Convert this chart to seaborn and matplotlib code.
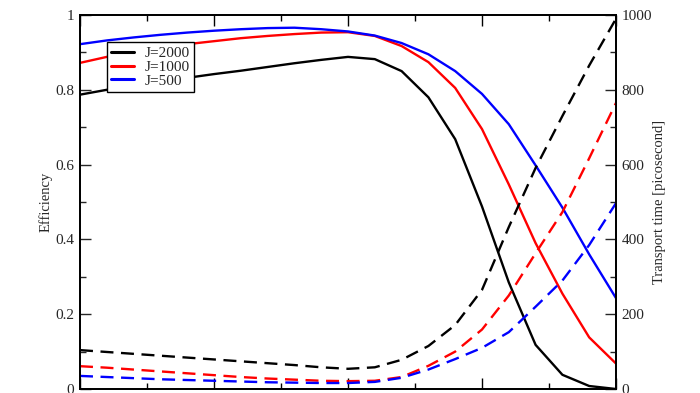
import numpy as np
import pandas as pd
import matplotlib
matplotlib.use("Agg")
import matplotlib.pyplot as plt
from matplotlib.ticker import MultipleLocator
import seaborn as sns

# sample index along the x axis (tick labels are cut off in the source figure)
x = list(range(21))

# efficiency (left axis)
eff_2000 = [0.787, 0.800, 0.811, 0.822, 0.832, 0.842, 0.851, 0.861, 0.871, 0.880, 0.888,
            0.882, 0.850, 0.780, 0.668, 0.488, 0.285, 0.118, 0.038, 0.008, 0.0]
eff_1000 = [0.872, 0.888, 0.902, 0.913, 0.922, 0.930, 0.938, 0.944, 0.949, 0.953, 0.954,
            0.944, 0.917, 0.874, 0.805, 0.695, 0.547, 0.390, 0.255, 0.138, 0.068]
eff_500 = [0.922, 0.932, 0.940, 0.947, 0.953, 0.958, 0.962, 0.965, 0.966, 0.962, 0.956,
           0.945, 0.925, 0.895, 0.850, 0.789, 0.708, 0.598, 0.485, 0.360, 0.243]

# transport time in picoseconds (right axis)
time_2000 = [104, 99, 94, 89, 84, 79, 74, 69, 64, 58, 54,
             58, 78, 115, 171, 265, 433, 591, 730, 865, 990]
time_1000 = [61, 57, 52, 47, 42, 37, 32, 28, 25, 22, 21,
             22, 32, 62, 100, 159, 250, 363, 473, 617, 765]
time_500 = [35, 32, 29, 26, 24, 22, 20, 18, 17, 16, 16,
            19, 30, 52, 80, 110, 152, 220, 290, 385, 497]

labels = ["J=2000", "J=1000", "J=500"]
colors = ["black", "red", "blue"]

sns.set_style("ticks")
plt.rcParams["font.family"] = ["Liberation Serif", "DejaVu Serif"]

fig = plt.figure(figsize=(7, 3.93), dpi=100)
ax = fig.add_axes([80 / 700, 4 / 393, 536 / 700, 374 / 393])
ax2 = ax.twinx()

for lab, col, eff, tt in zip(labels, colors, [eff_2000, eff_1000, eff_500],
                             [time_2000, time_1000, time_500]):
    sns.lineplot(x=x, y=eff, ax=ax, color=col, lw=1.7, label=lab)
    sns.lineplot(x=x, y=tt, ax=ax2, color=col, lw=1.7, dashes=False)
    ax2.lines[-1].set_dashes((5.5, 3.2))

ax.set_xlim(0, 20)
ax.set_ylim(0, 1)
ax2.set_ylim(0, 1000)

ax.xaxis.set_major_locator(MultipleLocator(5))
ax.xaxis.set_minor_locator(MultipleLocator(2.5))
ax.yaxis.set_major_locator(MultipleLocator(0.2))
ax.yaxis.set_minor_locator(MultipleLocator(0.1))
ax2.yaxis.set_major_locator(MultipleLocator(200))
ax2.yaxis.set_minor_locator(MultipleLocator(100))
ax.set_yticks([0, 0.2, 0.4, 0.6, 0.8, 1], ["0", "0.2", "0.4", "0.6", "0.8", "1"])

ax.tick_params(axis="x", which="both", direction="in", top=True, bottom=True,
               labelbottom=False, colors="black")
ax.tick_params(axis="x", which="major", length=8, width=1)
ax.tick_params(axis="x", which="minor", length=4, width=1)
ax.tick_params(axis="y", which="major", direction="in", length=8, width=1,
               labelsize=11, right=False, pad=4)
ax.tick_params(axis="y", which="minor", direction="in", length=4, width=1, right=False)
ax2.tick_params(axis="y", which="major", direction="in", length=8, width=1,
                labelsize=11, pad=4)
ax2.tick_params(axis="y", which="minor", direction="in", length=4, width=1)

for a in (ax, ax2):
    for s in a.spines.values():
        s.set_visible(True)
        s.set_color("black")
        s.set_linewidth(1.3)

ax.set_ylabel("Efficiency", fontsize=10.5, labelpad=2)
ax2.set_ylabel("Transport time [picosecond]", fontsize=10.5, labelpad=1)

# legend drawn on the twin axes so it sits above every line
handles, leg_labels = ax.get_legend_handles_labels()
ax.get_legend().remove()
leg = ax2.legend(handles, leg_labels, loc="upper left", bbox_to_anchor=(0.05, 0.928),
                 borderaxespad=0, fontsize=11, frameon=True, fancybox=False,
                 framealpha=1, handlelength=1.45, labelspacing=0.0, borderpad=0.3,
                 handletextpad=0.7)
leg.get_frame().set_edgecolor("black")
leg.get_frame().set_linewidth(1.0)
for h in leg.get_lines():
    h.set_linewidth(2.2)

fig.savefig("out.png", dpi=100)
